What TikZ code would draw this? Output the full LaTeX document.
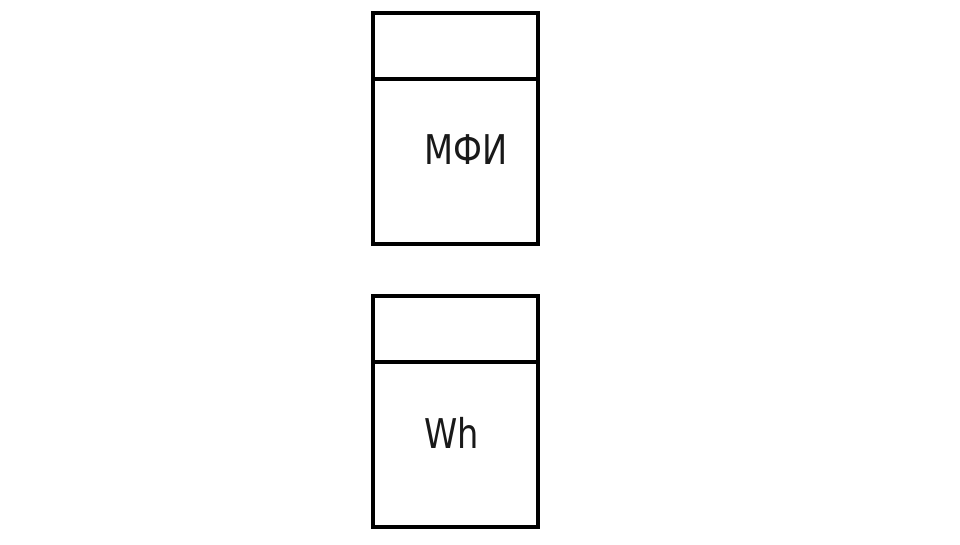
\documentclass[tikz,border=0pt]{standalone}
\usepackage{fontspec}
\newfontfamily\lblfont[FakeStretch=0.82]{DejaVu Sans}
\begin{document}
\begin{tikzpicture}[x=1pt,y=-1pt,
  part/.style={draw=black, line width=3.5pt, minimum width=165pt, inner sep=0pt, outer sep=0pt, anchor=north west},
  lbl/.style={font=\lblfont\fontsize{41}{41}\selectfont, text=black!90, inner sep=0pt}]
\useasboundingbox[fill=white] (0,0) rectangle (960,544);
\node[part, minimum height=66pt] (h1) at (373,13) {};
\node[part, minimum height=165pt] (b1) at (373,79) {};
\node[lbl] (t1) at (466,150) {МФИ};
\node[part, minimum height=66pt] (h2) at (373,296) {};
\node[part, minimum height=165pt] (b2) at (373,362) {};
\node[lbl] (t2) at (452,433) {Wh};
\end{tikzpicture}
\end{document}
